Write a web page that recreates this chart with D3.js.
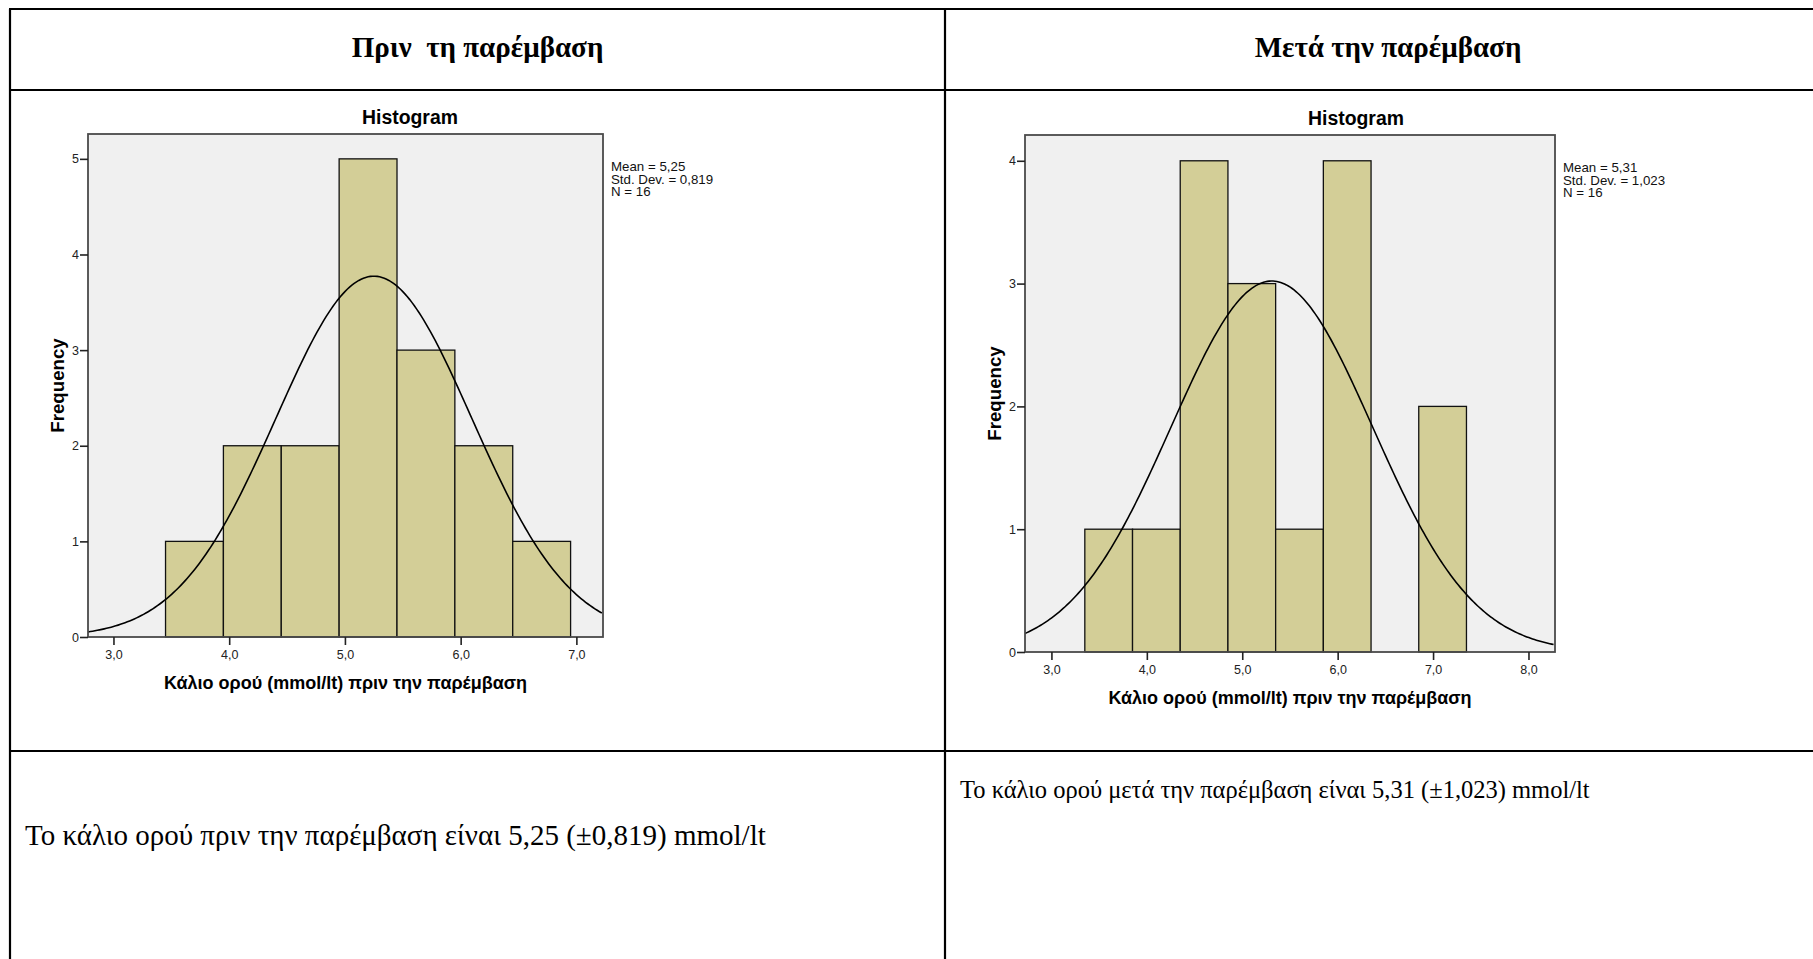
<!DOCTYPE html>
<html>
<head>
<meta charset="utf-8">
<script src="https://cdn.jsdelivr.net/npm/d3@7"></script>
<style>
  body { margin: 0; background: #fff; }
  svg { display: block; }
  .serif { font-family: "Liberation Serif", "Times New Roman", serif; white-space: pre; }
  .sans { font-family: "Liberation Sans", Arial, sans-serif; }
</style>
</head>
<body>
<div id="page"></div>
<script>
// Table texts
const headers = ["Πριν  τη παρέμβαση", "Μετά την παρέμβαση"];
const notes = [
  "Το κάλιο ορού πριν την παρέμβαση είναι 5,25 (±0,819) mmol/lt",
  "Το κάλιο ορού μετά την παρέμβαση είναι 5,31 (±1,023) mmol/lt"
];
const xTitle = "Κάλιο ορού (mmol/lt) πριν την παρέμβαση";

// Histogram before: bin edges and counts
const edgesBefore = [3.45, 3.95, 4.45, 4.95, 5.45, 5.95, 6.45, 6.95];
const countsBefore = [1, 2, 2, 5, 3, 2, 1];
const xTicksBefore = [3, 4, 5, 6, 7];
const yTicksBefore = [0, 1, 2, 3, 4, 5];
const statsBefore = { mean: 5.25, sd: 0.819, n: 16 };

// Histogram after
const edgesAfter = [3.35, 3.85, 4.35, 4.85, 5.35, 5.85, 6.35, 6.85, 7.35];
const countsAfter = [1, 1, 4, 3, 1, 4, 0, 2];
const xTicksAfter = [3, 4, 5, 6, 7, 8];
const yTicksAfter = [0, 1, 2, 3, 4];
const statsAfter = { mean: 5.31, sd: 1.023, n: 16 };

const W = 1813, H = 959;
const svg = d3.select("#page").append("svg")
  .attr("width", W)
  .attr("height", H);

// table grid
const grid = svg.append("g")
  .attr("stroke", "#000")
  .attr("stroke-width", 2.2);
const colX = [10, 945, 1831];
const rowY = [9, 90, 751];
rowY.forEach(y => grid.append("line").attr("x1", colX[0] - 1).attr("x2", colX[2]).attr("y1", y).attr("y2", y));
colX.forEach(x => grid.append("line").attr("x1", x).attr("x2", x).attr("y1", rowY[0]).attr("y2", H + 5));

// headers
headers.forEach((t, i) => {
  svg.append("text")
    .attr("class", "serif")
    .attr("x", (colX[i] + colX[i + 1]) / 2)
    .attr("y", 57)
    .attr("text-anchor", "middle")
    .attr("font-weight", "bold")
    .attr("font-size", 29)
    .text(t);
});

// notes under the charts
svg.append("text").attr("class", "serif")
  .attr("x", 25).attr("y", 845)
  .attr("font-size", 29)
  .text(notes[0]);
svg.append("text").attr("class", "serif")
  .attr("x", 960).attr("y", 798)
  .attr("font-size", 24.5)
  .text(notes[1]);

const commaFmt = d => d3.format(".1f")(d).replace(".", ",");

function drawHist(opt) {
  const x = d3.scaleLinear().domain(opt.xDomain).range([opt.left, opt.right]);
  const y = d3.scaleLinear().domain(opt.yDomain).range([opt.bottom, opt.top]);
  const g = svg.append("g").attr("class", "sans");

  // plot background
  g.append("rect")
    .attr("x", opt.left).attr("y", opt.top)
    .attr("width", opt.right - opt.left)
    .attr("height", opt.bottom - opt.top)
    .attr("fill", "#f0f0f0");

  // bars
  const bins = opt.counts.map((c, i) => ({ x0: opt.edges[i], x1: opt.edges[i + 1], c: c }))
    .filter(d => d.c > 0);
  g.selectAll("rect.bar")
    .data(bins)
    .enter()
    .append("rect")
    .attr("class", "bar")
    .attr("x", d => x(d.x0))
    .attr("y", d => y(d.c))
    .attr("width", d => x(d.x1) - x(d.x0))
    .attr("height", d => y(0) - y(d.c))
    .attr("fill", "#d3ce97")
    .attr("stroke", "#111")
    .attr("stroke-width", 1.3);

  // normal curve from mean / sd
  const s = opt.stats;
  const w = opt.edges[1] - opt.edges[0];
  const sdc = s.sd * Math.sqrt(s.n / (s.n - 1));
  const xs = d3.range(opt.xDomain[0], opt.xDomain[1] + 0.001, 0.02);
  const line = d3.line()
    .x(v => x(v))
    .y(v => y(s.n * w * Math.exp(-0.5 * Math.pow((v - s.mean) / sdc, 2)) / (sdc * Math.sqrt(2 * Math.PI))));
  g.append("path")
    .datum(xs)
    .attr("d", line)
    .attr("fill", "none")
    .attr("stroke", "#000")
    .attr("stroke-width", 1.6);

  // frame
  g.append("rect")
    .attr("x", opt.left).attr("y", opt.top)
    .attr("width", opt.right - opt.left)
    .attr("height", opt.bottom - opt.top)
    .attr("fill", "none")
    .attr("stroke", "#4a4a4a")
    .attr("stroke-width", 1.8);

  // axes
  const xAxis = g.append("g")
    .attr("transform", `translate(0, ${opt.bottom})`)
    .call(d3.axisBottom(x).tickValues(opt.xTicks).tickSize(8).tickPadding(5).tickFormat(commaFmt));
  const yAxis = g.append("g")
    .attr("transform", `translate(${opt.left}, 0)`)
    .call(d3.axisLeft(y).tickValues(opt.yTicks).tickSize(8).tickPadding(1).tickFormat(d3.format("d")));
  [xAxis, yAxis].forEach(a => {
    a.select(".domain").remove();
    a.selectAll("line").attr("stroke", "#222").attr("stroke-width", 1.6);
    a.selectAll("text")
      .attr("font-family", "Liberation Sans, Arial, sans-serif")
      .attr("font-size", 12.5)
      .attr("fill", "#222");
  });

  // titles
  g.append("text")
    .attr("x", opt.titleX).attr("y", opt.top - 10)
    .attr("text-anchor", "middle")
    .attr("font-weight", "bold")
    .attr("font-size", 19.4)
    .text("Histogram");
  g.append("text")
    .attr("x", (opt.left + opt.right) / 2).attr("y", opt.bottom + 52)
    .attr("text-anchor", "middle")
    .attr("font-weight", "bold")
    .attr("font-size", 18)
    .text(xTitle);
  g.append("text")
    .attr("transform", `translate(${opt.left - 24}, ${(opt.top + opt.bottom) / 2}) rotate(-90)`)
    .attr("text-anchor", "middle")
    .attr("font-weight", "bold")
    .attr("font-size", 18.7)
    .text("Frequency");

  // stats legend
  const legend = [
    "Mean = " + d3.format(".2f")(s.mean).replace(".", ","),
    "Std. Dev. = " + d3.format(".3f")(s.sd).replace(".", ","),
    "N = " + s.n
  ];
  g.append("g").selectAll("text")
    .data(legend)
    .enter()
    .append("text")
    .attr("x", opt.right + 8)
    .attr("y", (d, i) => opt.top + 37 + i * 12.5)
    .attr("font-size", 13.3)
    .attr("fill", "#111")
    .text(d => d);
}

drawHist({
  edges: edgesBefore, counts: countsBefore, xTicks: xTicksBefore, yTicks: yTicksBefore, stats: statsBefore,
  xDomain: [2.78, 7.23], yDomain: [0, 5.26],
  left: 88, right: 603, top: 134, bottom: 637, titleX: 410
});
drawHist({
  edges: edgesAfter, counts: countsAfter, xTicks: xTicksAfter, yTicks: yTicksAfter, stats: statsAfter,
  xDomain: [2.723, 8.278], yDomain: [0, 4.21],
  left: 1025, right: 1555, top: 135, bottom: 652, titleX: 1356
});
</script>
</body>
</html>
